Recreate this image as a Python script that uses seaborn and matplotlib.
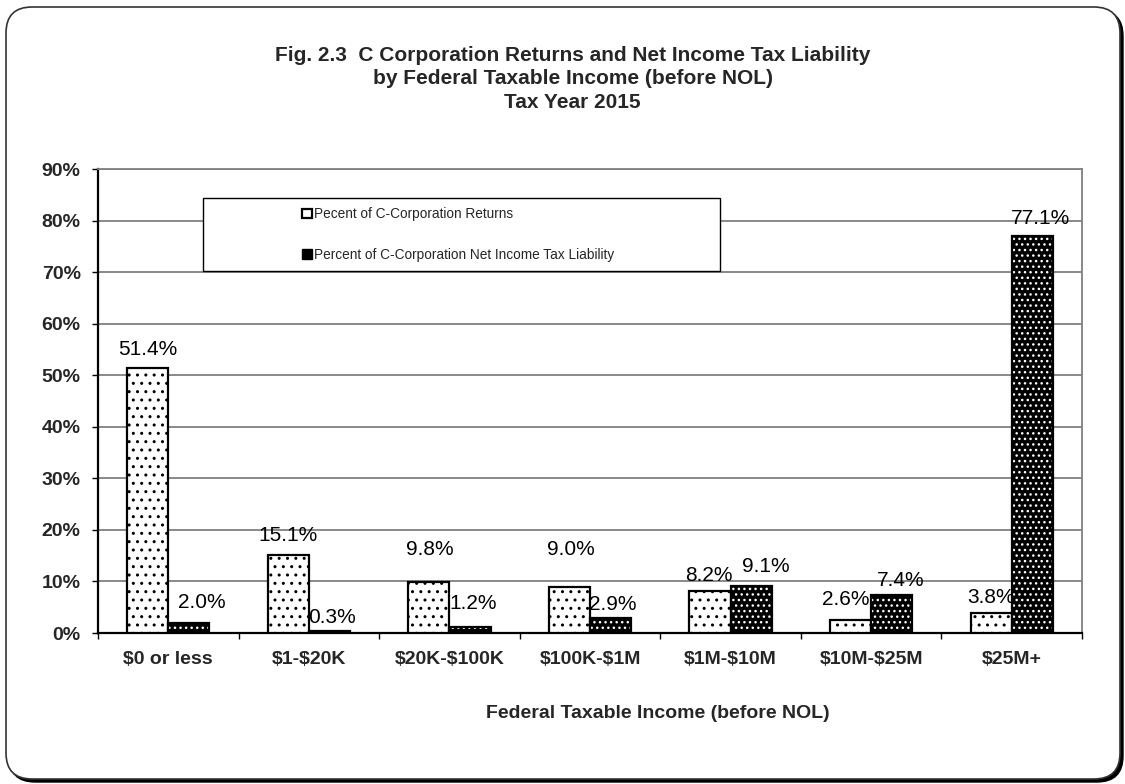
import numpy as np
import pandas as pd
import matplotlib
matplotlib.use("Agg")
import matplotlib.pyplot as plt
import seaborn as sns
from matplotlib.patches import Rectangle, FancyBboxPatch, Patch
from matplotlib.transforms import IdentityTransform
from matplotlib.ticker import FixedLocator, FuncFormatter

# ---- data -------------------------------------------------------------
categories = ["$0 or less", "$1-$20K", "$20K-$100K", "$100K-$1M",
              "$1M-$10M", "$10M-$25M", "$25M+"]
returns_pct = [51.4, 15.1, 9.8, 9.0, 8.2, 2.6, 3.8]
liability_pct = [2.0, 0.3, 1.2, 2.9, 9.1, 7.4, 77.1]
series_names = ["Pecent of C-Corporation Returns",
                "Percent of C-Corporation Net Income Tax Liability"]
y_ticks = [0, 10, 20, 30, 40, 50, 60, 70, 80, 90]

title_text = ("Fig. 2.3  C Corporation Returns and Net Income Tax Liability\n"
              "by Federal Taxable Income (before NOL)\n"
              "Tax Year 2015")
x_title = "Federal Taxable Income (before NOL)"

# hand-placed value labels: (dx, dy) in pixels from the top centre of each bar
label_nudge_returns = [(0, 19), (0, 20), (1, 33), (1, 37), (-1, 15), (-5, 20), (0, 16)]
label_nudge_liability = [(13, 20), (3, 14), (3, 23), (2, 14), (15, 20), (9, 14), (8, 17)]

df = pd.DataFrame({
    "category": categories * 2,
    "series": [series_names[0]] * len(categories) + [series_names[1]] * len(categories),
    "value": returns_pct + liability_pct,
})

# ---- style ------------------------------------------------------------
sns.set_style("white")
plt.rcParams["font.family"] = ["Liberation Sans", "DejaVu Sans"]
plt.rcParams["hatch.linewidth"] = 1.0

W, H = 1125, 784
fig = plt.figure(figsize=(W / 100, H / 100), dpi=100, facecolor="white")

# rounded frame with a drop shadow around the whole chart
shadow = FancyBboxPatch((9, 2), 1114, 772, boxstyle="round,pad=0,rounding_size=26",
                        transform=IdentityTransform(), facecolor="black",
                        edgecolor="black", linewidth=1, zorder=-3)
frame = FancyBboxPatch((6, 5), 1114, 772, boxstyle="round,pad=0,rounding_size=26",
                       transform=IdentityTransform(), facecolor="white",
                       edgecolor="#333333", linewidth=1.2, zorder=-2)
fig.add_artist(shadow)
fig.add_artist(frame)

ax_left, ax_right = 98 / W, 1082 / W
ax_bottom, ax_top = 1 - 633 / H, 1 - 169 / H
ax = fig.add_axes([ax_left, ax_bottom, ax_right - ax_left, ax_top - ax_bottom])

sns.barplot(data=df, x="category", y="value", hue="series",
            palette=["white", "black"], saturation=1, width=0.585,
            edgecolor="black", linewidth=1.6, legend=False, ax=ax, zorder=3)

ax.set_xlim(-0.5, len(categories) - 0.5)
ax.set_ylim(0, 90)

# dotted fills: black dots on white, white dots on black
for bar in ax.containers[0]:
    bar.set_hatch("..")
    bar.set_facecolor("white")
    bar.set_edgecolor("black")
for bar in ax.containers[1]:
    bar.set_facecolor("black")
    bar.set_edgecolor("white")
    bar.set_linewidth(0)
    bar.set_hatch("...")
    ax.add_patch(Rectangle(bar.get_xy(), bar.get_width(), bar.get_height(),
                           fill=False, edgecolor="black", linewidth=1.6, zorder=4))

# value labels
for container, nudges in ((ax.containers[0], label_nudge_returns),
                          (ax.containers[1], label_nudge_liability)):
    for bar, (dx, dy) in zip(container, nudges):
        v = bar.get_height()
        ax.annotate(f"{v:.1f}%", xy=(bar.get_x() + bar.get_width() / 2, v),
                    xytext=(dx, dy), textcoords="offset pixels",
                    ha="center", va="center", fontsize=15, color="black", zorder=6)

# axes, grid and ticks
ax.yaxis.set_major_locator(FixedLocator(y_ticks))
ax.yaxis.set_major_formatter(FuncFormatter(lambda v, p: f"{v:.0f}%"))
ax.grid(axis="y", color="#808080", linewidth=1.3, zorder=0)
ax.set_axisbelow(True)
ax.tick_params(axis="y", which="major", left=True, length=4.5, width=1,
               color="black", pad=8, labelsize=14)
for lab in ax.get_yticklabels():
    lab.set_fontweight("bold")

ax.set_xticks(range(len(categories)))
ax.set_xticklabels([c.replace("$", r"\$") for c in categories],
                   fontsize=14, fontweight="bold")
ax.tick_params(axis="x", which="major", length=0, pad=13)
ax.xaxis.set_minor_locator(FixedLocator(np.arange(-0.5, len(categories), 1.0)))
ax.tick_params(axis="x", which="minor", bottom=True, length=4.5, width=1, color="black")

for side in ("left", "bottom"):
    ax.spines[side].set_color("black")
    ax.spines[side].set_linewidth(1.6)
for side in ("right", "top"):
    ax.spines[side].set_color("#808080")
    ax.spines[side].set_linewidth(1.3)

ax.set_xlabel(x_title, fontsize=14, fontweight="bold")
ax.xaxis.set_label_coords(0.569, -0.155)
ax.set_ylabel("")

fig.suptitle(title_text, x=0.509, y=1 - 46 / H, fontsize=15, fontweight="bold",
             linespacing=1.3, va="top")

# legend box drawn as its own panel, entries placed inside it
box_x0, box_x1 = (203 - 98) / (1082 - 98), (720 - 98) / (1082 - 98)
box_y1, box_y0 = (633 - 198) / (633 - 169), (633 - 271) / (633 - 169)
ax.add_patch(Rectangle((box_x0, box_y0), box_x1 - box_x0, box_y1 - box_y0,
                       transform=ax.transAxes, facecolor="white",
                       edgecolor="black", linewidth=1, zorder=7))
handles = [Patch(facecolor="white", edgecolor="black", linewidth=1.6),
           Patch(facecolor="black", edgecolor="black", linewidth=1)]
leg = ax.legend(handles, series_names, loc="center left",
                bbox_to_anchor=((302 - 98) / (1082 - 98), (box_y0 + box_y1) / 2),
                frameon=False, fontsize=9.8, handlelength=0.7, handleheight=0.7,
                handletextpad=0.15, labelspacing=1.95, borderpad=0, borderaxespad=0)
leg.set_zorder(8)

fig.savefig("out.png", dpi=100, facecolor="white")
